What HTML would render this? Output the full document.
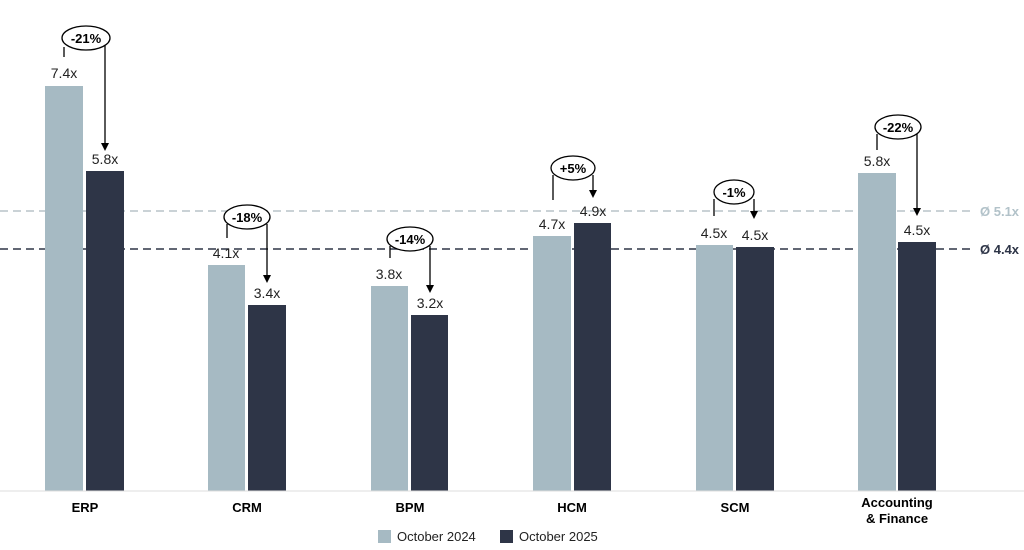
<!DOCTYPE html><html><head><style>body{margin:0;background:#fff}svg{display:block;font-family:"Liberation Sans",Arial,sans-serif}</style></head><body>
<svg width="1024" height="550" xmlns="http://www.w3.org/2000/svg">
<line x1="0" y1="211" x2="972" y2="211" stroke="#b9c4c9" stroke-width="1.5" stroke-dasharray="8,5"/>
<line x1="0" y1="249" x2="972" y2="249" stroke="#2e3547" stroke-width="1.5" stroke-dasharray="8,5"/>
<text x="980" y="216" font-size="13" font-weight="bold" fill="#b2c2c9">Ø 5.1x</text>
<text x="980" y="254" font-size="13" font-weight="bold" fill="#2e3547">Ø 4.4x</text>
<g fill="#a6bac3">
<rect x="45" y="86" width="38" height="405"/><rect x="208" y="265" width="37" height="226"/><rect x="371" y="286" width="37" height="205"/><rect x="533" y="236" width="38" height="255"/><rect x="696" y="245" width="37" height="246"/><rect x="858" y="173" width="38" height="318"/></g>
<g fill="#2e3547">
<rect x="86" y="171" width="38" height="320"/><rect x="248" y="305" width="38" height="186"/><rect x="411" y="315" width="37" height="176"/><rect x="574" y="223" width="37" height="268"/><rect x="736" y="247" width="38" height="244"/><rect x="898" y="242" width="38" height="249"/></g>
<line x1="0" y1="491" x2="1024" y2="491" stroke="#ddd"/>
<g font-size="14" fill="#222" text-anchor="middle">
<text x="64" y="78">7.4x</text><text x="105" y="164">5.8x</text>
<text x="226" y="258">4.1x</text><text x="267" y="298">3.4x</text>
<text x="389" y="279">3.8x</text><text x="430" y="308">3.2x</text>
<text x="552" y="229">4.7x</text><text x="593" y="216">4.9x</text>
<text x="714" y="238">4.5x</text><text x="755" y="240">4.5x</text>
<text x="877" y="166">5.8x</text><text x="917" y="235">4.5x</text></g>
<g stroke="#000" stroke-width="1.3" fill="none">
<path d="M64,47V57"/><path d="M105,45V144"/>
<path d="M227,224V238"/><path d="M267,224V276"/>
<path d="M390,246V258"/><path d="M430,246V286"/>
<path d="M553,175V200"/><path d="M593,175V191"/>
<path d="M714,199V216"/><path d="M754,199V212"/>
<path d="M877,134V150"/><path d="M917,134V209"/>
</g>
<g fill="#000">
<path d="M101,143H109L105,151z"/><path d="M263,275H271L267,283z"/><path d="M426,285H434L430,293z"/><path d="M589,190H597L593,198z"/><path d="M750,211H758L754,219z"/><path d="M913,208H921L917,216z"/></g>
<g fill="#fff" stroke="#000" stroke-width="1.3">
<ellipse cx="86" cy="38" rx="24" ry="12"/><ellipse cx="247" cy="217" rx="23" ry="12"/><ellipse cx="410" cy="239" rx="23" ry="12"/><ellipse cx="573" cy="168" rx="22" ry="12"/><ellipse cx="734" cy="192" rx="20" ry="12"/><ellipse cx="898" cy="127" rx="23" ry="12"/></g>
<g font-size="13" font-weight="bold" text-anchor="middle" fill="#000">
<text x="86" y="43">-21%</text><text x="247" y="222">-18%</text><text x="410" y="244">-14%</text><text x="573" y="173">+5%</text><text x="734" y="197">-1%</text><text x="898" y="132">-22%</text></g>
<g font-size="13" font-weight="bold" text-anchor="middle" fill="#000">
<text x="85" y="512">ERP</text><text x="247" y="512">CRM</text><text x="410" y="512">BPM</text><text x="572" y="512">HCM</text><text x="735" y="512">SCM</text><text x="897" y="507">Accounting</text><text x="897" y="523">&amp; Finance</text></g>
<rect x="378" y="530" width="13" height="13" fill="#a6bac3"/><text x="397" y="541" font-size="13" fill="#222">October 2024</text>
<rect x="500" y="530" width="13" height="13" fill="#2e3547"/><text x="519" y="541" font-size="13" fill="#222">October 2025</text>
</svg></body></html>
